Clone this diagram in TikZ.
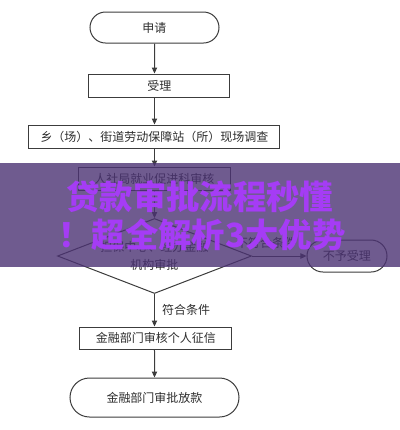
\documentclass[tikz,border=0pt]{standalone}
\usepackage{fontspec}
\newfontfamily\cjk{Noto Sans CJK SC}
\usetikzlibrary{shapes.geometric,shapes.misc,arrows.meta}

\begin{document}
\begin{tikzpicture}[x=0.75pt,y=0.75pt,yscale=-1,xscale=1,
	every node/.style={font=\cjk\fontsize{9}{14}\selectfont,text={rgb, 255:red, 45; green, 45; blue, 45 }},
	proc/.style={draw={rgb, 255:red, 60; green, 60; blue, 60 },line width=0.75,rectangle,minimum height=17.25pt,inner sep=0.75pt},
	term/.style={draw={rgb, 255:red, 60; green, 60; blue, 60 },line width=0.75,rounded rectangle,inner sep=0.75pt},
	judge/.style={draw={rgb, 255:red, 60; green, 60; blue, 60 },line width=0.75,diamond,aspect=2.6,inner sep=0pt,align=center,minimum width=145.5pt,minimum height=56.25pt},
	flow/.style={draw={rgb, 255:red, 60; green, 60; blue, 60 },line width=0.75,-{Triangle[length=4.5pt,width=4pt]}},
	banner/.style={font=\cjk\bfseries\fontsize{25}{30}\selectfont,text={rgb, 255:red, 165; green, 60; blue, 245 },inner sep=0pt}]
	\useasboundingbox (0,0) rectangle (400,430);
	\coordinate (spine) at (154.5,0);
	% flow chart
	\node [term,minimum width=98.25pt,minimum height=23.25pt] (apply) at (154.5,27.5) {申请};
	\node [proc,minimum width=105.75pt] (accept) at (159.5,85.5) {受理};
	\node [proc,minimum width=188.25pt] (survey) at (154.5,136.5) {乡（场）、街道劳动保障站（所）现场调查};
	\node [proc,minimum width=114pt] (review) at (154.5,178.5) {人社局就业促进科审核};
	\node [judge] (approve) at (154.5,256) {担保中心、经办金融\\机构审批};
	\node [term,minimum width=61.5pt,minimum height=24pt] (reject) at (347,256) {不予受理};
	\node [proc,minimum width=114pt,minimum height=16.5pt] (credit) at (156,338) {金融部门审核个人征信};
	\node [term,minimum width=128.25pt,minimum height=29.25pt] (loan) at (154.5,397.5) {金融部门审批放款};
	\draw [flow] (apply) -- (spine |- accept.north);
	\draw [flow] (spine |- accept.south) -- (survey);
	\draw [flow] (survey) -- (review);
	\draw [flow] (review) -- (approve);
	\draw [flow] (approve) -- (reject) node [pos=0.26,above=2pt] {不符合条件};
	\draw [flow] (approve) -- (spine |- credit.north) node [midway,right=2pt] {符合条件};
	\draw [flow] (spine |- credit.south) -- (loan);
	% banner
	\fill [fill={rgb, 255:red, 75; green, 50; blue, 115 },fill opacity=0.8] (0,163) rectangle (400,267);
	\node [banner] (title1) at (200,197) {贷款审批流程秒懂};
	\node [banner] (title2) at (202,235) {！超全解析3大优势};
\end{tikzpicture}
\end{document}
